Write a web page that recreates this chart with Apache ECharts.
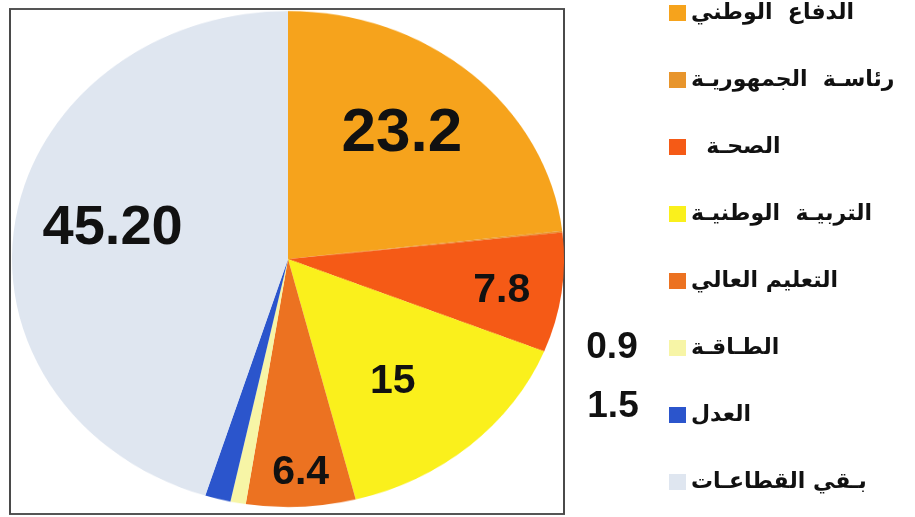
<!DOCTYPE html>
<html><head><meta charset="utf-8">
<script src="https://cdn.jsdelivr.net/npm/echarts@6/dist/echarts.min.js"></script>
<style>
html,body{margin:0;padding:0;overflow:hidden;background:#fff;width:915px;height:517px}
#pie{position:absolute;left:0;top:0;width:915px;height:575px;transform-origin:0 0;}
#main{position:absolute;left:0;top:0;width:915px;height:517px}
</style></head><body>
<div id="pie"></div><div id="main"></div>
<script>
// ---- data ----
const sectors = ['الدفاع  الوطني','رئاسـة  الجمهوريـة','  الصحـة','التربيـة  الوطنيـة','التعليم العالي','الطـاقـة','العدل','بـقي القطاعـات'];
const shares = [23.2, 0.1, 7.8, 15, 6.4, 0.9, 1.5, 45.2];
const valueLabels = ['23.2', '', '7.8', '15', '6.4', '0.9', '1.5', '45.20'];

// ---- styles ----
const colors = ['#f6a31c','#e8952c','#f55a16','#faf01c','#ec7221','#f7f5a6','#2b55cc','#dfe6f0'];
const labelSizes = [62, 0, 41, 41, 41, 37, 37, 56];
const labelMoves = [
  {dx:20, dy:-20}, {}, {dx:74, dy:12}, {dx:12, dy:17}, {dx:6, dy:73},
  {x:612, y:348}, {x:613, y:407}, {dx:-36, dy:-9}
];

const CX = 288, CY = 259, R = 276, RY = 248;
const S = RY / R;
const pieDiv = document.getElementById('pie');
pieDiv.style.transform = 'scaleY(' + S + ')';

// elliptical pie (vertically scaled container)
const pie = echarts.init(pieDiv);
pie.setOption({
  animation: false,
  graphic: [{
    type: 'rect', z: 0, silent: true,
    shape: {x: 10, y: 9 / S, width: 554, height: 505 / S},
    style: {fill: 'none', stroke: '#4a4a4a', lineWidth: 2}
  }],
  series: [{
    type: 'pie', z: 2, silent: true,
    center: [CX, CY / S], radius: R,
    startAngle: 90, clockwise: true,
    label: {show: false}, labelLine: {show: false},
    data: sectors.map((n, i) => ({name: n, value: shares[i], itemStyle: {color: colors[i]}}))
  }]
});

// legend + value labels
const main = echarts.init(document.getElementById('main'));
main.setOption({
  animation: false,
  backgroundColor: 'transparent',
  legend: {
    orient: 'vertical', left: 664, top: -3,
    itemWidth: 17, itemHeight: 16, itemGap: 45, icon: 'rect',
    selectedMode: false,
    textStyle: {fontFamily: 'DejaVu Sans', fontWeight: 'bold', fontSize: 22, color: '#111'},
    data: sectors.map((n, i) => ({name: n, itemStyle: {color: colors[i]}}))
  },
  series: [{
    type: 'pie', silent: true,
    center: [CX, CY], radius: R,
    startAngle: 90, clockwise: true,
    itemStyle: {color: 'rgba(0,0,0,0)'},
    emphasis: {disabled: true},
    labelLine: {show: false},
    label: {show: true, position: 'inside', color: '#111', fontWeight: 'bold', fontFamily: 'Liberation Sans'},
    labelLayout: p => labelMoves[p.dataIndex],
    data: sectors.map((n, i) => ({
      name: n, value: shares[i],
      label: {show: valueLabels[i] !== '', formatter: valueLabels[i], fontSize: labelSizes[i] || 12}
    }))
  }]
});
</script>
</body></html>
